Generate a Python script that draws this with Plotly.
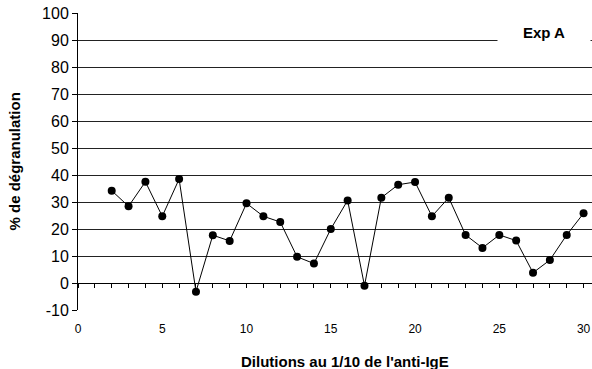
import plotly.graph_objects as go

# Dilution steps (1/10 each) and measured degranulation (%)
dilutions = list(range(2, 31))
degranulation = [34.2, 28.4, 37.5, 24.7, 38.5, -3.2, 17.7, 15.6, 29.5, 24.7,
                 22.6, 9.7, 7.2, 20.0, 30.6, -1.0, 31.6, 36.4, 37.4, 24.7,
                 31.6, 17.8, 13.0, 17.8, 15.7, 3.8, 8.5, 17.8, 25.8]

x_ticks = [0, 5, 10, 15, 20, 25, 30]
y_ticks = list(range(-10, 101, 10))
y_tick_labels = [str(v) for v in y_ticks]  # plain hyphen for "-10"
x_range = [0, 30.5]
y_range = [-10, 100]

FONT = "Liberation Sans, Arial, sans-serif"

fig = go.Figure()
fig.add_trace(go.Scatter(
    x=dilutions, y=degranulation, mode="lines+markers",
    line=dict(color="black", width=1),
    marker=dict(color="black", size=8),
    showlegend=False, cliponaxis=False,
))

# Invisible trace so the zero-line axis has something to anchor to
fig.add_trace(go.Scatter(x=[None], y=[None], xaxis="x2", showlegend=False))

fig.update_layout(
    width=592, height=369,
    margin=dict(l=78, r=0, t=13, b=59),
    paper_bgcolor="white", plot_bgcolor="white",
    font=dict(family=FONT, color="black"),
    xaxis=dict(
        range=x_range, tickvals=x_ticks, showgrid=False, zeroline=False,
        showline=False, ticks="", tickfont=dict(size=12),
        ticklabelstandoff=10,
    ),
    xaxis2=dict(
        overlaying="x", anchor="free", side="bottom",
        position=(0 - y_range[0]) / (y_range[1] - y_range[0]),
        range=x_range, tick0=0, dtick=1, ticks="outside", ticklen=4,
        tickcolor="black", showticklabels=False, showgrid=False,
        zeroline=False, showline=True, linecolor="black", linewidth=1,
    ),
    yaxis=dict(
        range=y_range, tickvals=y_ticks, ticktext=y_tick_labels,
        showgrid=True, gridcolor="#222222", gridwidth=1, zeroline=False,
        showline=True, linecolor="black", linewidth=1,
        ticks="outside", ticklen=5, tickcolor="black",
        tickfont=dict(size=16),
    ),
    annotations=[
        dict(text="<b>% de dégranulation</b>", textangle=-90,
             xref="paper", yref="paper", x=-64 / 514, y=0.5,
             xanchor="center", yanchor="middle", showarrow=False,
             font=dict(size=15)),
        dict(text="<b>Dilutions au 1/10 de l'anti-IgE</b>",
             xref="paper", yref="paper", x=(345 - 78) / 514, y=-51 / 297,
             xanchor="center", yanchor="middle", showarrow=False,
             font=dict(size=15)),
        dict(text="<b>Exp A</b>", xref="x", yref="y",
             x=(544 - 78) / 16.85, y=93,
             xanchor="center", yanchor="middle", showarrow=False,
             bgcolor="white", width=90, height=20,
             font=dict(size=15)),
    ],
)

fig.write_html("out.html")
